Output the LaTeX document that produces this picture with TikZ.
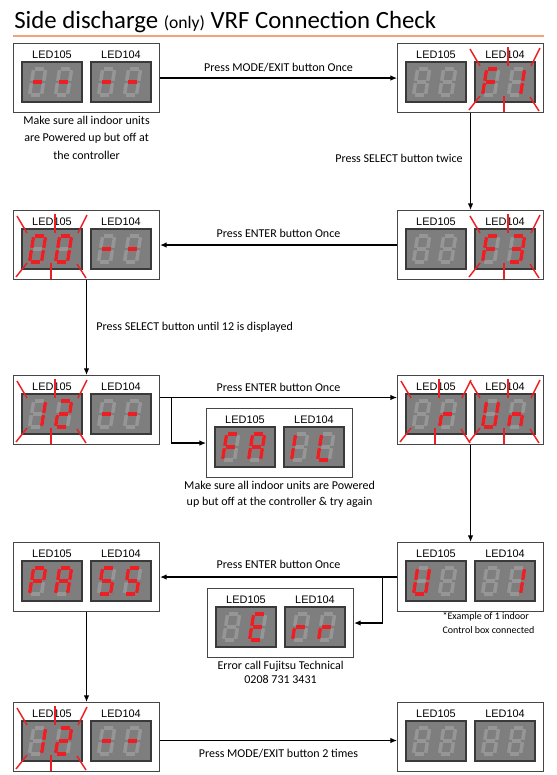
\documentclass[tikz,border=0pt]{standalone}
\usepackage{fontspec}
\setmainfont{Carlito}
\newfontfamily\arialfont{Liberation Sans}
\usetikzlibrary{positioning,arrows.meta}
\definecolor{segred}{RGB}{236,32,36}
\definecolor{segdim}{RGB}{150,150,150}
\definecolor{dispgrey}{RGB}{126,126,126}
\definecolor{dispedge}{RGB}{58,58,58}
\definecolor{panelgrey}{RGB}{70,70,70}
\definecolor{ruleorange}{RGB}{242,164,116}

% segments of one digit, as pairs of corners
\def\allsegs{tl/tr,tr/mr,mr/br,bl/br,ml/bl,tl/ml,ml/mr}
\def\chBlank{}
\def\chDash{ml/mr}
\def\chZero{tl/tr,tr/mr,mr/br,bl/br,ml/bl,tl/ml}
\def\chOne{tr/mr,mr/br}
\def\chTwo{tl/tr,tr/mr,ml/mr,ml/bl,bl/br}
\def\chThree{tl/tr,tr/mr,ml/mr,mr/br,bl/br}
\def\chFive{tl/tr,tl/ml,ml/mr,mr/br,bl/br}
\def\chA{tl/tr,tr/mr,mr/br,ml/bl,tl/ml,ml/mr}
\def\chE{tl/tr,tl/ml,ml/mr,ml/bl,bl/br}
\def\chF{tl/tr,tl/ml,ml/mr,ml/bl}
\def\chI{tl/ml,ml/bl}
\def\chL{tl/ml,ml/bl,bl/br}
\def\chP{tl/tr,tr/mr,tl/ml,ml/mr,ml/bl}
\def\chR{ml/mr,ml/bl}
\def\chU{tl/ml,ml/bl,bl/br,mr/br,tr/mr}
\def\chN{ml/mr,ml/bl,mr/br}

% one digit: bottom left corner, lit segments
\newcommand{\sevenseg}[3]{%
  \begin{scope}[shift={(#1,#2)},xslant=0.16,yscale=-1]
    \coordinate (tl) at (0,26); \coordinate (tr) at (12,26);
    \coordinate (ml) at (0,13); \coordinate (mr) at (12,13);
    \coordinate (bl) at (0,0);  \coordinate (br) at (12,0);
    \foreach \p/\q in \allsegs {\draw[segoff] (\p) -- (\q);}
    \ifx#3\chBlank\else
      \foreach \p/\q in #3 {\draw[segon] (\p) -- (\q);}
    \fi
  \end{scope}}

% one display: top left corner, two digits, flashing or not
\newcommand{\leddisp}[5]{%
  \draw[dispbox] (#1,#2) rectangle ++(60,40);
  \sevenseg{#1+7.5}{#2+33}{#3}
  \sevenseg{#1+33.5}{#2+33}{#4}
  \ifnum#5=1\relax
    \draw[ray] (#1+5,#2+4) -- (#1-5,#2-13);
    \draw[ray] (#1+33,#2+4) -- (#1+33,#2-15);
    \draw[ray] (#1+56,#2+4) -- (#1+65,#2-14);
    \draw[ray] (#1+5,#2+34) -- (#1-6,#2+48);
    \draw[ray] (#1+29,#2+34) -- (#1+29,#2+50);
    \draw[ray] (#1+55,#2+35) -- (#1+64,#2+49);
  \fi}

% contents of a panel node
\newcommand{\ledpanel}[7]{%
  \begin{scope}[shift={(#1.north west)}]
    \node[ledlabel] at (39,12) {LED105};
    \node[ledlabel] at (108,12) {LED104};
    \leddisp{9}{19}{#2}{#3}{#6}
    \leddisp{78}{19}{#4}{#5}{#7}
  \end{scope}}

\begin{document}
\begin{tikzpicture}[x=0.75pt,y=-0.75pt]
\tikzstyle{panel}=[draw=panelgrey,fill=white,line width=0.8pt,minimum width=109.5pt,minimum height=51.75pt,inner sep=0pt,anchor=north west]
\tikzstyle{dispbox}=[fill=dispgrey,draw=dispedge,line width=1.1pt]
\tikzstyle{segoff}=[segdim,line width=2.6pt,shorten <=0.9pt,shorten >=0.9pt]
\tikzstyle{segon}=[segred,line width=2.6pt,shorten <=0.9pt,shorten >=0.9pt]
\tikzstyle{ray}=[segred,line width=1.1pt]
\tikzstyle{ledlabel}=[font=\arialfont\fontsize{8.2}{10}\selectfont,inner sep=0pt]
\tikzstyle{arrow}=[line width=0.9pt,-{Latex[length=5pt,width=4.2pt]}]
\tikzstyle{lbl}=[font=\fontsize{9}{11}\selectfont,inner sep=1pt]
\tikzstyle{note}=[inner sep=1pt,align=center]
\useasboundingbox (0,0) rectangle (557,775);

% title
\node[anchor=base west,inner sep=0pt,font=\fontsize{18.6}{22}\selectfont] (title) at (14,28)
  {Side discharge {\fontsize{13.2}{15}\selectfont(only)} VRF Connection Check};
\draw[ruleorange,line width=1.1pt] (13,36) -- (544,36);

% panels
\node[panel] (start) at (13,43) {};
\node[panel] (fone) at (397,43) {};
\node[panel] (zero) at (13,210) {};
\node[panel] (fthree) at (397,210) {};
\node[panel] (twelve) at (13,375) {};
\node[panel] (run) at (397,375) {};
\node[panel] (fail) at (206,408) {};
\node[panel] (pass) at (13,542) {};
\node[panel] (uone) at (397,542) {};
\node[panel] (err) at (207,588) {};
\node[panel] (twelveb) at (13,702) {};
\node[panel] (done) at (397,702) {};

\ledpanel{start}{\chDash}{\chDash}{\chDash}{\chDash}{0}{0}
\ledpanel{fone}{\chBlank}{\chBlank}{\chF}{\chOne}{0}{1}
\ledpanel{zero}{\chZero}{\chZero}{\chDash}{\chDash}{1}{0}
\ledpanel{fthree}{\chBlank}{\chBlank}{\chF}{\chThree}{0}{1}
\ledpanel{twelve}{\chOne}{\chTwo}{\chDash}{\chDash}{1}{0}
\ledpanel{run}{\chBlank}{\chR}{\chU}{\chN}{1}{1}
\ledpanel{fail}{\chF}{\chA}{\chI}{\chL}{0}{0}
\ledpanel{pass}{\chP}{\chA}{\chFive}{\chFive}{0}{0}
\ledpanel{uone}{\chU}{\chBlank}{\chBlank}{\chOne}{0}{0}
\ledpanel{err}{\chBlank}{\chE}{\chR}{\chR}{0}{0}
\ledpanel{twelveb}{\chOne}{\chTwo}{\chDash}{\chDash}{1}{0}
\ledpanel{done}{\chBlank}{\chBlank}{\chBlank}{\chBlank}{0}{0}

% notes
\node[note,font=\fontsize{9}{13.1}\selectfont,below=1pt of start] (startnote)
  {Make sure all indoor units\\are Powered up but off at\\the controller};
\node[note,font=\fontsize{9}{11.8}\selectfont,below=1pt of fail] (failnote)
  {Make sure all indoor units are Powered\\up but off at the controller \& try again};
\node[note,font=\fontsize{9}{10.5}\selectfont,below=1pt of err] (errnote)
  {Error call Fujitsu Technical\\0208 731 3431};
\node[note,align=left,font=\fontsize{7.5}{10.5}\selectfont,anchor=north west] (uonenote) at (441,611)
  {*Example of 1 indoor\\Control box connected};

% steps
\draw[arrow] (start) -- node[lbl,yshift=7.9pt] {Press MODE/EXIT button Once} (fone);
\draw[arrow] (fone) -- node[lbl,left,pos=0.47,xshift=-4.5pt] {Press SELECT button twice} (fthree);
\draw[arrow] (fthree) -- node[lbl,yshift=8.6pt] {Press ENTER button Once} (zero);
\draw[arrow] (zero) -- node[lbl,right,xshift=6pt] {Press SELECT button until 12 is displayed} (twelve);
\draw[arrow] ([yshift=9.4pt]twelve.east) -- node[lbl,yshift=7.5pt] {Press ENTER button Once} ([yshift=9.4pt]run.west);
\coordinate (split) at ([xshift=8.8pt,yshift=9.4pt]twelve.east);
\draw[arrow] (split) |- (fail);
\draw[arrow] (run) -- (uone);
\draw[arrow] (uone) -- node[lbl,yshift=9.4pt] {Press ENTER button Once} (pass);
\coordinate (splitb) at ([xshift=-11pt]uone.west);
\draw[arrow] (splitb) |- (err);
\draw[arrow] (pass) -- (twelveb);
\draw[arrow] ([yshift=-2.6pt]twelveb.east) -- node[lbl,yshift=-9.8pt] {Press MODE/EXIT button 2 times} ([yshift=-2.6pt]done.west);
\end{tikzpicture}
\end{document}
